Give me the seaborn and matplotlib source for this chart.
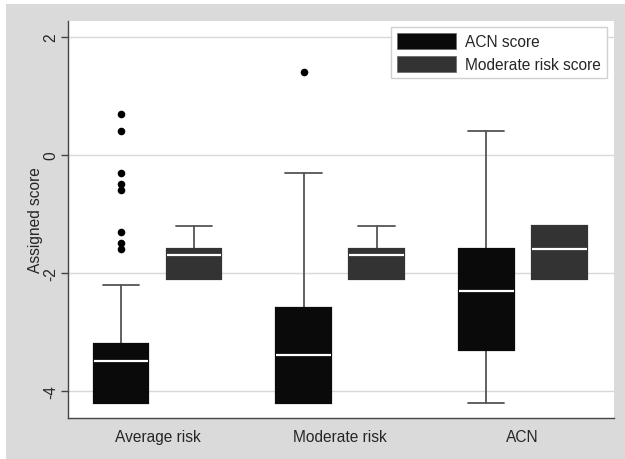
import matplotlib.pyplot as plt
import matplotlib.patches as mpatches
import pandas as pd
import seaborn as sns

sns.set_theme(style='white')
plt.rcParams['font.family'] = ['Liberation Sans', 'DejaVu Sans']

groups = ['Average risk', 'Moderate risk', 'ACN']
series = ['ACN score', 'Moderate risk score']
colors = ['#0a0a0a', '#333333']

# box summaries, one list per series (order of groups)
acn_lo = [-4.2, -4.2, -4.2]
acn_q1 = [-4.2, -4.2, -3.3]
acn_med = [-3.5, -3.4, -2.3]
acn_q3 = [-3.2, -2.6, -1.6]
acn_hi = [-2.2, -0.3, 0.4]
acn_out = [[0.7, 0.4, -0.3, -0.5, -0.6, -1.3, -1.5, -1.6], [1.4], []]

mod_lo = [-2.1, -2.1, -2.1]
mod_q1 = [-2.1, -2.1, -2.1]
mod_med = [-1.7, -1.7, -1.6]
mod_q3 = [-1.6, -1.6, -1.2]
mod_hi = [-1.2, -1.2, -1.2]
mod_out = [[], [], []]

fig = plt.figure(figsize=(6.25, 4.6), dpi=100, facecolor='white')
# grey Stata-like outer panel
fig.add_artist(mpatches.Rectangle((6 / 625, 0), 1, 455 / 460, transform=fig.transFigure,
                                  facecolor='#dadada', edgecolor='none', zorder=-10))
ax = fig.add_axes([68 / 625, 41 / 460, 546 / 625, 397 / 460])
ax.set_facecolor('white')

stats_by_series = [
    (acn_lo, acn_q1, acn_med, acn_q3, acn_hi, acn_out),
    (mod_lo, mod_q1, mod_med, mod_q3, mod_hi, mod_out),
]
offsets = [-0.2, 0.2]

flier_rows = []
for s, (lo, q1, med, q3, hi, out) in enumerate(stats_by_series):
    stats = []
    for g in range(len(groups)):
        stats.append(dict(whislo=lo[g], q1=q1[g], med=med[g], q3=q3[g], whishi=hi[g], fliers=[]))
        for v in out[g]:
            flier_rows.append({'x': g + offsets[s], 'score': v})
    ax.bxp(stats, positions=[g + offsets[s] for g in range(len(groups))], widths=0.3,
           capwidths=0.2, patch_artist=True, showfliers=False,
           boxprops=dict(facecolor=colors[s], edgecolor=colors[s], linewidth=1.6, zorder=2.5),
           medianprops=dict(color='white', linewidth=1.6, zorder=2.6),
           whiskerprops=dict(color='#555555', linewidth=1.3, zorder=2),
           capprops=dict(color='#555555', linewidth=1.3, zorder=2))

fliers = pd.DataFrame(flier_rows)
sns.scatterplot(data=fliers, x='x', y='score', color='black', s=30, edgecolor='black',
                linewidth=0, ax=ax, zorder=3)

ax.set_xlim(-0.49, 2.5)
ax.set_ylim(-4.46, 2.27)
ax.set_xticks(range(len(groups)))
ax.set_xticklabels(groups, fontsize=11.2)
ax.set_yticks([-4, -2, 0, 2])
ax.set_yticklabels(['-4', '-2', '0', '2'], rotation=90, va='center', fontsize=11.2)
ax.tick_params(axis='y', left=True, length=5, width=1, color='#444444', pad=2)
ax.tick_params(axis='x', bottom=False, pad=2)
ax.set_xlabel('')
ax.set_ylabel('Assigned score', fontsize=11.2, labelpad=0)
ax.yaxis.grid(True, color='#d8d8d8', linewidth=1)
ax.set_axisbelow(True)
for side in ['top', 'right']:
    ax.spines[side].set_visible(False)
for side in ['left', 'bottom']:
    ax.spines[side].set_color('#444444')
    ax.spines[side].set_linewidth(1)

handles = [mpatches.Patch(facecolor=c, edgecolor='#666666', linewidth=0.5) for c in colors]
ax.legend(handles, series, loc='upper right', bbox_to_anchor=(0.988, 0.986), borderaxespad=0,
          fontsize=11.2, handlelength=3.8, handleheight=1.2, handletextpad=0.6,
          labelspacing=0.45, borderpad=0.4,
          frameon=True, fancybox=False, edgecolor='#d0d0d0', framealpha=1)

fig.savefig('out.png', dpi=100, facecolor=fig.get_facecolor())
